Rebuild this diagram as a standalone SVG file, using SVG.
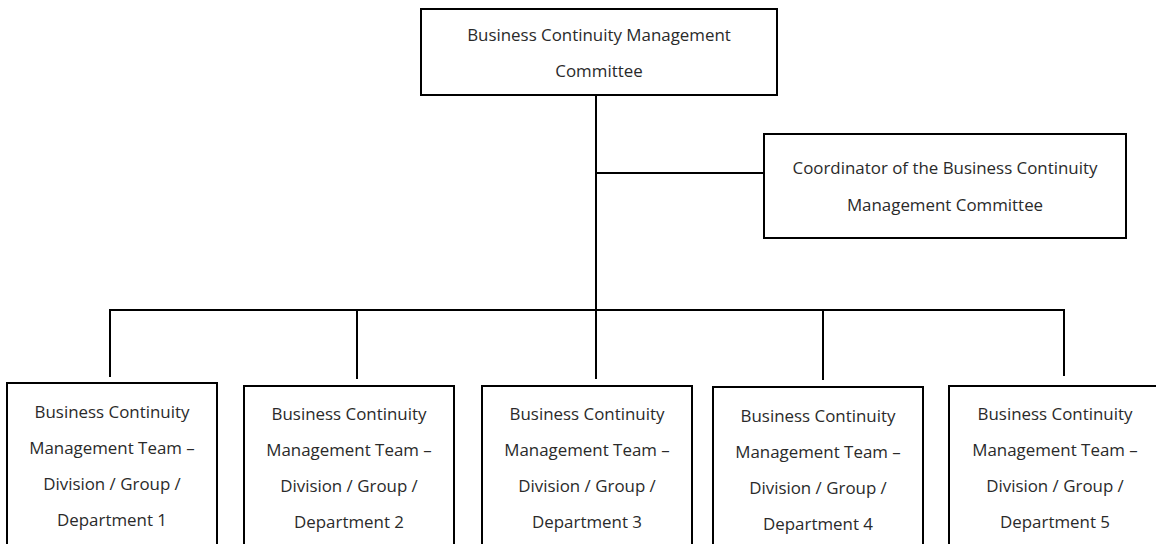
<svg xmlns="http://www.w3.org/2000/svg" width="1156" height="544" viewBox="0 0 1156 544">
<style>
.box{fill:#fff;stroke:#000;stroke-width:2}
.ln{stroke:#000;stroke-width:2;fill:none}
text{font-family:"Open Sans","Noto Sans","DejaVu Sans",sans-serif;font-size:16.9px;fill:#2a2a2a;text-anchor:middle}
</style>
<rect width="1156" height="544" fill="#fff"/>
<g id="connectors">
<line class="ln" x1="596" y1="95" x2="596" y2="379"/>
<line class="ln" x1="596" y1="173" x2="764" y2="173"/>
<line class="ln" x1="109" y1="310" x2="1065" y2="310"/>
<line class="ln" x1="110" y1="310" x2="110" y2="377"/>
<line class="ln" x1="357" y1="310" x2="357" y2="379"/>
<line class="ln" x1="823" y1="310" x2="823" y2="380"/>
<line class="ln" x1="1064" y1="309" x2="1064" y2="376"/>
</g>
<g id="committee">
<rect class="box" x="421" y="9" width="356" height="86"/>
<text x="599" y="41">Business Continuity Management</text>
<text x="599" y="77">Committee</text>
</g>
<g id="coordinator">
<rect class="box" x="764" y="134" width="362" height="104"/>
<text x="945" y="174">Coordinator of the Business Continuity</text>
<text x="945" y="211">Management Committee</text>
</g>
<g id="team1">
<rect class="box" x="7" y="383" width="210" height="170"/>
<text x="112" y="418">Business Continuity</text>
<text x="112" y="454">Management Team –</text>
<text x="112" y="490">Division / Group /</text>
<text x="112" y="526">Department 1</text>
</g>
<g id="team2">
<rect class="box" x="244" y="386" width="210" height="170"/>
<text x="349" y="420">Business Continuity</text>
<text x="349" y="456">Management Team –</text>
<text x="349" y="492">Division / Group /</text>
<text x="349" y="528">Department 2</text>
</g>
<g id="team3">
<rect class="box" x="482" y="386" width="210" height="170"/>
<text x="587" y="420">Business Continuity</text>
<text x="587" y="456">Management Team –</text>
<text x="587" y="492">Division / Group /</text>
<text x="587" y="528">Department 3</text>
</g>
<g id="team4">
<rect class="box" x="713" y="387" width="210" height="170"/>
<text x="818" y="422">Business Continuity</text>
<text x="818" y="458">Management Team –</text>
<text x="818" y="494">Division / Group /</text>
<text x="818" y="530">Department 4</text>
</g>
<g id="team5">
<rect class="box" x="949" y="386" width="210" height="170"/>
<text x="1055" y="420">Business Continuity</text>
<text x="1055" y="456">Management Team –</text>
<text x="1055" y="492">Division / Group /</text>
<text x="1055" y="528">Department 5</text>
</g>
</svg>
